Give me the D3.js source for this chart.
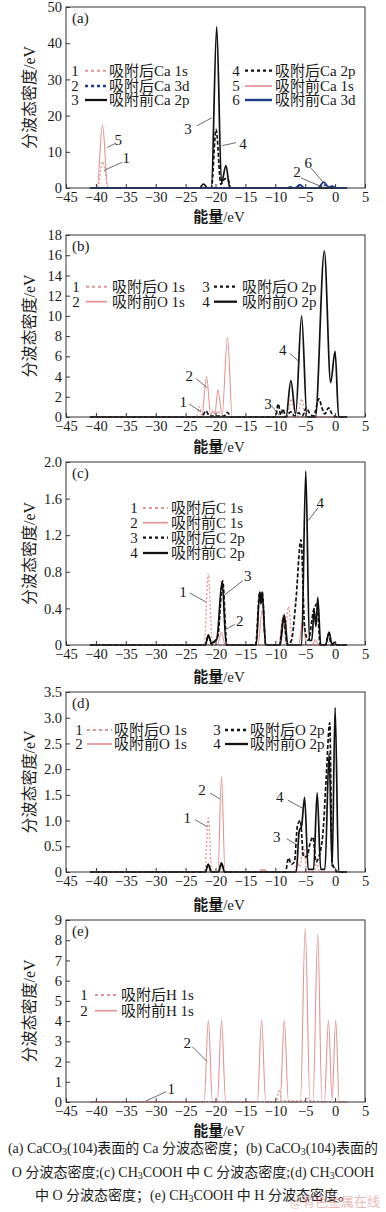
<!DOCTYPE html>
<html>
<head>
<meta charset="utf-8">
<script src="https://cdn.jsdelivr.net/npm/d3@7"></script>
<style>
  body { margin: 0; background: #fff; }
  svg { display: block; }
  text { font-family: "Liberation Serif", "Noto Sans CJK SC", serif; fill: #1a1a1a; }
</style>
</head>
<body>
<div id="chart"></div>
<script>
// ---- data: [energy eV, PDOS] points ----
var energyTicks = [-45, -40, -35, -30, -25, -20, -15, -10, -5, 0, 5];

// (a) Ca in CaCO3(104)
var yTicksA = [0, 10, 20, 30, 40, 50];
var caAfter1s = [[-41,0],[-39.7,0],[-38.9,7.3],[-38.5,5],[-38.0,0],[2,0]];
var caAfter3d = [[-41,0],[-8,0],[-7.5,0.2],[-7,0],[-6.6,0],[-5.9,0.5],[-5.2,0],[-2.8,0],[-1.9,0.9],[-1.2,0.2],[-0.5,0.4],[0.2,0],[2,0]];
var caBefore2p = [[-41,0],[-22.7,0],[-22,1.1],[-21.3,0],[-20.7,0],[-19.8,44.5],[-19.0,1.5],[-18.25,6.2],[-17.6,0],[2,0]];
var caAfter2p = [[-41,0],[-20.7,0],[-19.9,16.2],[-19.1,1],[-18.4,2.6],[-17.9,2.4],[-17.5,0],[2,0]];
var caBefore1s = [[-41,0],[-39.8,0],[-38.9,17.5],[-38.0,0],[2,0]];
var caBefore3d = [[-41,0],[-8,0],[-7.5,0.3],[-7,0],[-6.7,0],[-5.9,0.9],[-5.1,0],[-2.9,0],[-1.9,1.6],[-1.1,0.3],[-0.5,0.5],[0.2,0],[2,0]];

// (b) O in CaCO3(104)
var yTicksB = [0, 2, 4, 6, 8, 10, 12, 14, 16, 18];
var oAfter1s = [[-41,0],[-23.2,0],[-22.7,1.0],[-22.2,0],[-20.1,0],[-19.6,0.6],[-19.1,0],[-8,0],[-7.3,1.8],[-6.6,0],[-6.3,0],[-5.6,1.8],[-4.9,0],[2,0]];
var oBefore1s = [[-41,0],[-22.3,0],[-21.5,4.0],[-20.8,0.2],[-20.4,0.6],[-20.1,0.3],[-19.6,2.7],[-18.9,0.2],[-18.0,7.9],[-17.2,0],[2,0]];
var oAfter2p = [[-41,0],[-22.3,0],[-21.6,0.6],[-21.0,0.1],[-18.6,0.1],[-18.0,0.45],[-17.4,0],[-10,0],[-9.5,1.3],[-9.1,0.2],[-8.7,0.8],[-8.3,0],[-7.4,0.5],[-6.8,0.1],[-6.1,0.4],[-5.5,0.1],[-4.8,0.9],[-4.3,0.4],[-3.6,0.1],[-2.7,1.8],[-2.2,0.9],[-1.7,0.3],[-1.1,0.9],[-0.5,0.3],[0.3,0],[2,0]];
var oBefore2p = [[-41,0],[-8.2,0],[-7.4,3.6],[-6.6,0.3],[-5.6,10.0],[-4.7,0],[-3.3,0],[-1.8,16.4],[-0.75,3.4],[0,6.5],[0.6,0],[2,0]];

// (c) C in CH3COOH
var yTicksC = [0, 0.4, 0.8, 1.2, 1.6, 2.0];
var cAfter1s = [[-41,0],[-21.9,0],[-21.2,0.78],[-20.5,0],[-8.5,0],[-7.8,0.42],[-7.1,0],[2,0]];
var cBefore1s = [[-41,0],[-19.7,0],[-19.0,0.14],[-18.4,0],[-12.9,0],[-12.2,0.38],[-11.6,0],[-9.4,0],[-8.7,0.33],[-8.1,0],[-6.1,0],[-5.4,0.27],[-4.8,0],[-3.8,0],[-3.3,0.06],[-2.8,0],[2,0]];
var cAfter2p = [[-41,0],[-21.7,0],[-21.2,0.1],[-20.6,0],[-20.3,0.03],[-19.6,0.1],[-18.8,0.7],[-18.1,0],[-13.3,0],[-12.6,0.58],[-12.4,0.45],[-12.2,0.58],[-11.6,0],[-9.3,0],[-8.6,0.3],[-8,0],[-7.3,0.05],[-6.6,0.45],[-5.7,1.15],[-5.1,0.2],[-4.5,0.05],[-3.6,0.38],[-3.0,0.45],[-2.5,0],[-1.6,0],[-1.1,0.12],[-0.6,0],[2,0]];
var cBefore2p = [[-41,0],[-21.7,0],[-21.2,0.11],[-20.7,0.02],[-19.8,0.06],[-18.9,0.69],[-18.2,0],[-13.2,0],[-12.6,0.58],[-12.4,0.45],[-12.2,0.58],[-11.6,0],[-9.2,0],[-8.5,0.33],[-7.9,0],[-5.6,0],[-4.9,1.9],[-4.3,0.05],[-3.9,0.05],[-3.5,0.38],[-3.2,0.2],[-2.9,0.52],[-2.4,0],[-1.6,0],[-1.0,0.14],[-0.5,0],[-0.2,0.03],[0.3,0],[2,0]];

// (d) O in CH3COOH
var yTicksD = [0, 0.5, 1.0, 1.5, 2.0, 2.5, 3.0, 3.5];
var dAfter1s = [[-41,0],[-21.8,0],[-21.2,1.05],[-20.6,0],[-12.6,0],[-12.3,0.07],[-12.0,0],[-11.8,0.07],[-11.5,0],[-6.8,0],[-6.3,0.2],[-5.9,0.1],[-5.3,0.5],[-4.7,0],[-3.5,0],[-3.1,0.2],[-2.6,0],[2,0]];
var dBefore1s = [[-41,0],[-19.6,0],[-19.0,1.86],[-18.4,0],[2,0]];
var dAfter2p = [[-41,0],[-21.7,0],[-21.2,0.15],[-20.7,0],[-19.5,0],[-19,0.17],[-18.5,0],[-8.3,0],[-7.8,0.27],[-7.3,0.15],[-6.8,0.2],[-6.3,0.9],[-5.8,1.0],[-5.3,0.3],[-4.7,0.3],[-4.2,0.55],[-3.7,0.68],[-3.2,0.2],[-2.7,0.3],[-2.0,0.8],[-1.5,1.8],[-0.9,2.9],[-0.5,0.2],[0,0.05],[0.5,0],[2,0]];
var dBefore2p = [[-41,0],[-21.7,0],[-21.2,0.15],[-20.7,0],[-19.5,0],[-19,0.18],[-18.5,0],[-6.5,0],[-6,0.8],[-5.6,0.9],[-5.1,1.45],[-4.5,0.05],[-3.6,0.05],[-3.0,1.54],[-2.4,0.05],[-1.7,0.05],[-1.0,2.3],[-0.5,0.1],[0,3.2],[0.6,0],[2,0]];

// (e) H in CH3COOH
var yTicksE = [0, 1, 2, 3, 4, 5, 6, 7, 8, 9];
var hAfter1s = [[-41,0.02],[-9.9,0.02],[-9.3,0.6],[-8.9,0.05],[-5,0.05],[-4.5,0.2],[-4.1,0.05],[2,0]];
var hBefore1s = [[-41,0],[-21.9,0],[-21.2,4.05],[-20.5,0],[-19.7,0],[-19.0,4.05],[-18.3,0],[-13.0,0],[-12.3,4.05],[-11.6,0],[-9.2,0],[-8.5,4.05],[-7.8,0],[-5.8,0],[-5.0,8.6],[-4.2,0],[-3.7,0],[-2.9,8.3],[-2.2,0],[-1.8,0],[-1.1,4.05],[-0.5,0.1],[0.1,4.05],[0.7,0],[2,0]];

// ---- styles ----
var PINK = "#e39494", BLUE = "#1d3c8c", BLACK = "#111";
var styles = {
  pinkDot:  {stroke: PINK,  width: 1.3, dash: "2,2"},
  pinkLine: {stroke: PINK,  width: 1.1, dash: null},
  blueDot:  {stroke: BLUE,  width: 1.8, dash: "2,2"},
  blueLine: {stroke: BLUE,  width: 1.8, dash: null},
  blackDash:{stroke: BLACK, width: 1.7, dash: "4,2"},
  blackLine:{stroke: BLACK, width: 1.7, dash: null}
};
var legendDash = {pinkDot: "3,3", blueDot: "3,3", blackDash: "3,3"};

var width = 386, height = 1212;
var left = 66, right = 365;

var svg = d3.select("#chart").append("svg")
  .attr("width", width)
  .attr("height", height);

var x = d3.scaleLinear().domain([-45, 5]).range([left, right]);

var panels = [
  { tag: "(a)", top: 7, bottom: 188, ticks: yTicksA, digits: 0, labelY: 217,
    series: [
      {n: "1", data: caAfter1s,  style: "pinkDot",  name: "吸附后Ca 1s"},
      {n: "2", data: caAfter3d,  style: "blueDot",  name: "吸附后Ca 3d"},
      {n: "3", data: caBefore2p, style: "blackLine",name: "吸附前Ca 2p"},
      {n: "4", data: caAfter2p,  style: "blackDash",name: "吸附后Ca 2p"},
      {n: "5", data: caBefore1s, style: "pinkLine", name: "吸附前Ca 1s"},
      {n: "6", data: caBefore3d, style: "blueLine", name: "吸附前Ca 3d"}
    ],
    drawOrder: [4, 0, 2, 3, 5, 1],
    legend: [
      {cols: [75, 85, 107, 109], rows: [70.7, 86, 100], items: [0, 1, 2]},
      {cols: [236, 245, 272, 275], rows: [70.7, 86, 100], items: [3, 4, 5]}
    ],
    callouts: [
      {n: "3", at: [-20.6, 19.4], line: [-15, 8], text: [-24, 11]},
      {n: "4", at: [-18.9, 11.7], line: [14, -3], text: [21, -2]},
      {n: "5", at: [-38.1, 11.2], line: [8, -4], text: [11, -7]},
      {n: "1", at: [-38.6, 4.9], line: [18, -8], text: [22, -12]},
      {n: "2", at: [-2.2, 0.3], line: [-21, -9], text: [-25, -15]},
      {n: "6", at: [-2.0, 1.6], line: [-12, -14], text: [-15, -19]}
    ]
  },
  { tag: "(b)", top: 235, bottom: 417, ticks: yTicksB, digits: 0, labelY: 447,
    series: [
      {n: "1", data: oAfter1s,  style: "pinkDot",  name: "吸附后O 1s"},
      {n: "2", data: oBefore1s, style: "pinkLine", name: "吸附前O 1s"},
      {n: "3", data: oAfter2p,  style: "blackDash",name: "吸附后O 2p"},
      {n: "4", data: oBefore2p, style: "blackLine",name: "吸附前O 2p"}
    ],
    drawOrder: [1, 0, 3, 2],
    legend: [
      {cols: [76, 86, 107, 112], rows: [286.7, 301.7], items: [0, 1]},
      {cols: [206, 214, 237, 242], rows: [286.7, 301.7], items: [2, 3]}
    ],
    callouts: [
      {n: "2", at: [-21.4, 2.9], line: [-11, -9], text: [-18, -12]},
      {n: "1", at: [-22.4, 0.5], line: [-12, -8], text: [-18, -10]},
      {n: "3", at: [-9.4, 0.2], line: [-7, -9], text: [-11, -11]},
      {n: "4", at: [-5.9, 5.4], line: [-10, -9], text: [-17, -12]}
    ]
  },
  { tag: "(c)", top: 462, bottom: 645, ticks: yTicksC, digits: 1, labelY: 677,
    series: [
      {n: "1", data: cAfter1s,  style: "pinkDot",  name: "吸附后C 1s"},
      {n: "2", data: cBefore1s, style: "pinkLine", name: "吸附前C 1s"},
      {n: "3", data: cAfter2p,  style: "blackDash",name: "吸附后C 2p"},
      {n: "4", data: cBefore2p, style: "blackLine",name: "吸附前C 2p"}
    ],
    drawOrder: [1, 0, 3, 2],
    legend: [
      {cols: [134, 143, 168, 171], rows: [508, 522.7, 537.7, 553], items: [0, 1, 2, 3]}
    ],
    callouts: [
      {n: "1", at: [-21.6, 0.47], line: [-16, -9], text: [-23, -10]},
      {n: "3", at: [-18.6, 0.54], line: [19, -15], text: [24, -20]},
      {n: "2", at: [-18.6, 0.16], line: [11, -6], text: [16, -9]},
      {n: "4", at: [-4.5, 1.36], line: [10, -13], text: [12, -18]}
    ]
  },
  { tag: "(d)", top: 692, bottom: 872, ticks: yTicksD, digits: 1, labelY: 905,
    series: [
      {n: "1", data: dAfter1s,  style: "pinkDot",  name: "吸附后O 1s"},
      {n: "2", data: dBefore1s, style: "pinkLine", name: "吸附前O 1s"},
      {n: "3", data: dAfter2p,  style: "blackDash",name: "吸附后O 2p"},
      {n: "4", data: dBefore2p, style: "blackLine",name: "吸附前O 2p"}
    ],
    drawOrder: [1, 0, 3, 2],
    legend: [
      {cols: [79, 87, 112, 114], rows: [730, 744], items: [0, 1]},
      {cols: [217, 225, 248, 250], rows: [730, 744], items: [2, 3]}
    ],
    callouts: [
      {n: "2", at: [-19.25, 1.42], line: [-10, -6], text: [-18, -9]},
      {n: "1", at: [-21.4, 0.88], line: [-12, -7], text: [-20, -9]},
      {n: "4", at: [-5.4, 1.24], line: [-15, -8], text: [-23, -11]},
      {n: "3", at: [-6.4, 0.53], line: [-10, -6], text: [-20, -8]}
    ]
  },
  { tag: "(e)", top: 920, bottom: 1102, ticks: yTicksE, digits: 0, labelY: 1131,
    series: [
      {n: "1", data: hAfter1s,  style: "pinkDot",  name: "吸附后H 1s"},
      {n: "2", data: hBefore1s, style: "pinkLine", name: "吸附前H 1s"}
    ],
    drawOrder: [1, 0],
    legend: [
      {cols: [84, 95, 117, 121], rows: [995, 1010.7], items: [0, 1]}
    ],
    callouts: [
      {n: "2", at: [-21.4, 2.0], line: [-15, -15], text: [-20, -19]},
      {n: "1", at: [-31.6, 0.06], line: [20, -9], text: [25, -12]}
    ]
  }
];

panels.forEach(function(p) {
  var y = d3.scaleLinear()
    .domain([0, p.ticks[p.ticks.length - 1]])
    .range([p.bottom, p.top]);
  var fmtY = function(d) { return d === 0 ? "0" : d.toFixed(p.digits); };

  var g = svg.append("g");

  // series
  var line = d3.line()
    .x(function(d) { return x(d[0]); })
    .y(function(d) { return y(d[1]); })
    .curve(d3.curveMonotoneX);

  p.drawOrder.forEach(function(i) {
    var s = p.series[i], st = styles[s.style];
    g.append("path")
      .attr("d", line(s.data))
      .attr("fill", "none")
      .attr("stroke", st.stroke)
      .attr("stroke-width", st.width)
      .attr("stroke-dasharray", st.dash)
      .attr("stroke-linejoin", "round");
  });

  // axes
  var xAxis = g.append("g")
    .attr("transform", "translate(0," + p.bottom + ")")
    .call(d3.axisBottom(x).tickValues(energyTicks).tickSizeInner(-4).tickSizeOuter(0).tickPadding(4));
  var yAxis = g.append("g")
    .attr("transform", "translate(" + left + ",0)")
    .call(d3.axisLeft(y).tickValues(p.ticks).tickFormat(fmtY).tickSizeInner(-4).tickSizeOuter(0).tickPadding(4));
  [xAxis, yAxis].forEach(function(a) {
    a.select(".domain").remove();
    a.selectAll("line").attr("stroke", "#333");
    a.selectAll("text").style("font-size", "14.5px").attr("fill", "#1a1a1a");
  });

  g.append("rect")
    .attr("x", left).attr("y", p.top)
    .attr("width", right - left).attr("height", p.bottom - p.top)
    .attr("fill", "none").attr("stroke", "#333").attr("stroke-width", 1);

  g.append("text")
    .attr("x", left + 6).attr("y", p.top + 16)
    .style("font-size", "15px")
    .text(p.tag);

  // axis titles
  g.append("text")
    .attr("transform", "translate(29," + ((p.top + p.bottom) / 2) + ") rotate(-90)")
    .attr("text-anchor", "middle")
    .attr("dominant-baseline", "central")
    .style("font-size", "16px")
    .text("分波态密度/eV");

  var xl = g.append("text")
    .attr("x", 219).attr("y", p.labelY)
    .attr("text-anchor", "middle")
    .attr("dominant-baseline", "central")
    .style("font-size", "15px");
  xl.append("tspan").style("font-weight", "bold").text("能量");
  xl.append("tspan").text("/eV");

  // legend
  p.legend.forEach(function(col) {
    col.items.forEach(function(idx, r) {
      var s = p.series[idx], st = styles[s.style], yy = col.rows[r];
      g.append("text")
        .attr("x", col.cols[0]).attr("y", yy)
        .attr("text-anchor", "middle")
        .attr("dominant-baseline", "central")
        .style("font-size", "15px")
        .text(s.n);
      g.append("line")
        .attr("x1", col.cols[1]).attr("x2", col.cols[2])
        .attr("y1", yy).attr("y2", yy)
        .attr("stroke", st.stroke)
        .attr("stroke-width", st.width + 0.6)
        .attr("stroke-dasharray", legendDash[s.style] || null);
      g.append("text")
        .attr("x", col.cols[3]).attr("y", yy)
        .attr("dominant-baseline", "central")
        .style("font-size", "15px")
        .text(s.name);
    });
  });

  // numbered callouts
  p.callouts.forEach(function(c) {
    var px = x(c.at[0]), py = y(c.at[1]);
    g.append("line")
      .attr("x1", px).attr("y1", py)
      .attr("x2", px + c.line[0]).attr("y2", py + c.line[1])
      .attr("stroke", "#444").attr("stroke-width", 0.8);
    g.append("text")
      .attr("x", px + c.text[0]).attr("y", py + c.text[1])
      .attr("text-anchor", "middle")
      .attr("dominant-baseline", "central")
      .style("font-size", "15px")
      .text(c.n);
  });
});

// ---- caption ----
var caption = [
  [["(a) CaCO"], ["3", true], ["(104)表面的 Ca 分波态密度；(b) CaCO"], ["3", true], ["(104)表面的"]],
  [["O 分波态密度;(c) CH"], ["3", true], ["COOH 中 C 分波态密度;(d) CH"], ["3", true], ["COOH"]],
  [["中 O 分波态密度；(e) CH"], ["3", true], ["COOH 中 H 分波态密度。"]]
];
var captionY = [1148, 1172, 1195];
caption.forEach(function(parts, i) {
  var t = svg.append("text")
    .attr("x", i === 2 ? 35 : 193)
    .attr("y", captionY[i])
    .attr("text-anchor", i === 2 ? "start" : "middle")
    .attr("dominant-baseline", "central")
    .style("font-size", "14px");
  var prevSub = false;
  parts.forEach(function(pt) {
    var ts = t.append("tspan").text(pt[0]);
    if (pt[1]) ts.style("font-size", "10px").attr("dy", 3);
    else if (prevSub) ts.attr("dy", -3);
    prevSub = !!pt[1];
  });
});

svg.append("text")
  .attr("x", 380).attr("y", 1201)
  .attr("text-anchor", "end")
  .attr("dominant-baseline", "central")
  .style("font-size", "13px")
  .style("fill", "rgba(215,110,110,0.5)")
  .text("@有色金属在线");
</script>
</body>
</html>
